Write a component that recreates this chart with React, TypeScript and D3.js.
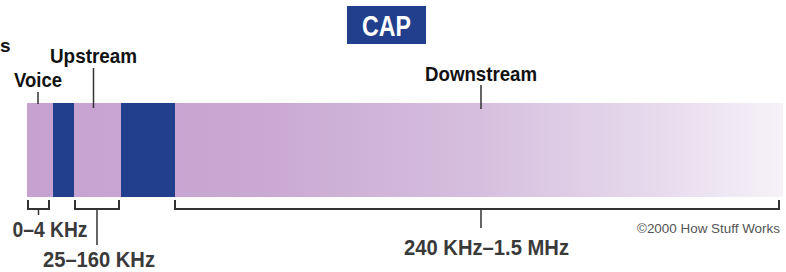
import React from 'react';
import * as d3 from 'd3';

// frequency breakpoints (kHz) and band names
const bandNames = ["Voice", "Upstream", "Downstream"];
const bandStart = [0, 25, 240];
const bandEnd = [4, 160, 1500];
const rangeLabels = ["0–4 KHz", "25–160 KHz", "240 KHz–1.5 MHz"];
// guard gaps drawn as dark blocks
const guardStart = [4, 160];
const guardEnd = [25, 240];

const title = "CAP";
const credit = "©2000 How Stuff Works";

const W = 786;
const H = 272;

export default function App() {
  // piecewise scale: each band gets its own slice of the strip
  const x = d3.scaleLinear()
    .domain([0, 4, 25, 160, 240, 1500])
    .range([27, 53, 74, 121, 175, 783]);

  const barTop = 103;
  const barBottom = 197;
  const bracketY = 209;
  const font = "'Liberation Sans', Arial, sans-serif";
  const dark = "#213f8c";

  // label layout per band (top label baseline, tick top, tick bottom)
  const topLayout = [
    { y: 87, t0: 92, t1: 104, len: 48, dx: -2 },
    { y: 63, t0: 68, t1: 108, len: 87, dx: -4 },
    { y: 81, t0: 85, t1: 109, len: 112, dx: 2 },
  ];
  const bottomLayout = [
    { y: 237, t1: 215, len: 75, dx: -26 },
    { y: 267, t1: 245, len: 112, dx: -54 },
    { y: 255, t1: 228, len: 165, dx: -77 },
  ];
  const bracketInset = [[1, 4], [1, 2], [0, 4]];

  return (
    <svg width={W} height={H} style={{ position: "absolute", left: 0, top: 0, background: "#fff" }}>
      <defs>
        <linearGradient id="fade" x1="0" x2="1" y1="0" y2="0">
          <stop offset="0" stopColor="#c7a2d1" />
          <stop offset="0.3" stopColor="#c9a8d3" />
          <stop offset="0.6" stopColor="#d6bfde" />
          <stop offset="0.85" stopColor="#e8dcee" />
          <stop offset="1" stopColor="#f6f2f8" />
        </linearGradient>
      </defs>

      {/* partly cut-off letter at left edge */}
      <text x={0} y={52} textAnchor="start" fontFamily={font} fontWeight="bold" fontSize={19} fill="#111">s</text>

      {/* title box */}
      <rect x={347} y={6} width={79} height={38} fill={dark} />
      <text x={386.5} y={36} textAnchor="middle" fontFamily={font} fontWeight="bold" fontSize={29}
        fill="#fff" textLength={49} lengthAdjust="spacingAndGlyphs">{title}</text>

      {/* spectrum strip */}
      <rect x={x(0)} y={barTop} width={x(1500) - x(0)} height={barBottom - barTop} fill="url(#fade)" />
      {guardStart.map((g, i) => (
        <rect key={"g" + i} x={x(g)} y={barTop} width={x(guardEnd[i]) - x(g)} height={barBottom - barTop} fill={dark} />
      ))}

      {bandNames.map((name, i) => {
        const cx = (x(bandStart[i]) + x(bandEnd[i])) / 2;
        const L = topLayout[i];
        return (
          <g key={name}>
            <text x={cx + L.dx} y={L.y} textAnchor="middle" fontFamily={font} fontWeight="bold" fontSize={21}
              fill="#111" textLength={L.len} lengthAdjust="spacingAndGlyphs">{name}</text>
            <line x1={cx + L.dx} x2={cx + L.dx} y1={L.t0} y2={L.t1} stroke="#333" strokeWidth={1.5} />
          </g>
        );
      })}

      {bandNames.map((name, i) => {
        const x0 = x(bandStart[i]) + bracketInset[i][0];
        const x1 = x(bandEnd[i]) - bracketInset[i][1];
        const cx = (x0 + x1) / 2 + (i === 2 ? 4 : 0);
        const L = bottomLayout[i];
        return (
          <g key={"b" + name}>
            <path d={`M${x0},${bracketY - 9}V${bracketY}H${x1}V${bracketY - 9}`} fill="none" stroke="#333" strokeWidth={2} />
            <line x1={cx} x2={cx} y1={bracketY} y2={L.t1} stroke="#333" strokeWidth={1.5} />
            <text x={cx + L.dx} y={L.y} textAnchor="start" fontFamily={font} fontWeight="bold"
              fontSize={22} fill="#3a3a3a" textLength={L.len} lengthAdjust="spacingAndGlyphs">{rangeLabels[i]}</text>
          </g>
        );
      })}

      <text x={780} y={233} textAnchor="end" fontFamily={font} fontSize={12} fill="#555"
        textLength={143} lengthAdjust="spacingAndGlyphs">{credit}</text>
    </svg>
  );
}
